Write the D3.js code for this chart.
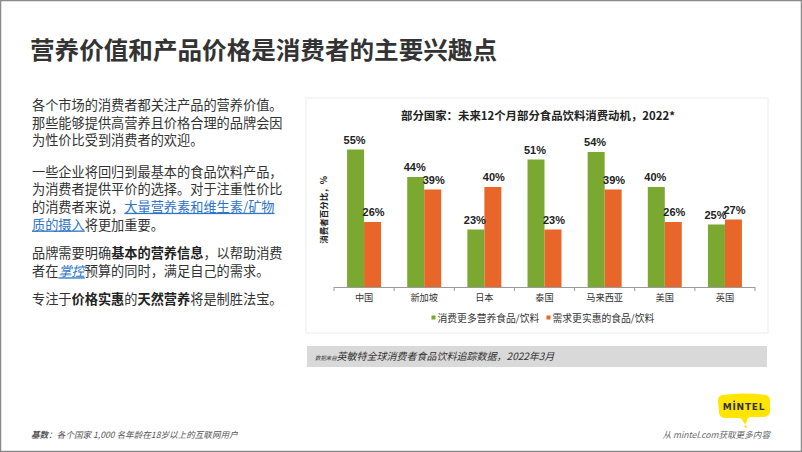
<!DOCTYPE html>
<html><head><meta charset="utf-8">
<script src="https://cdn.jsdelivr.net/npm/d3@7"></script>
<style>
html,body{margin:0;padding:0;background:#fff;}
svg{display:block;}
</style></head>
<body>
<svg id="c" width="802" height="452"></svg>
<script>
const categories = ["中国","新加坡","日本","泰国","马来西亚","美国","英国"];
const seriesNames = ["消费更多营养食品/饮料","需求更实惠的食品/饮料"];
const nutritious = [55,44,23,51,54,40,25];
const affordable = [26,39,40,23,39,26,27];
const colors = ["#7AA830","#E8662A"];

const svg = d3.select("#c");
const CJK = "'Noto Sans CJK SC','Noto Sans',sans-serif";

// slide frame
svg.append("rect").attr("x",0.5).attr("y",0.5).attr("width",801).attr("height",451)
  .attr("fill","#fff").attr("stroke","#8a8a8a").attr("stroke-width",1.5);

// main title
svg.append("text").attr("x",30).attr("y",59)
  .attr("font-family",CJK).attr("font-weight","bold").attr("font-size",24)
  .attr("fill","#333").attr("textLength",467).attr("lengthAdjust","spacingAndGlyphs")
  .text("营养价值和产品价格是消费者的主要兴趣点");

// body paragraphs
const lines = [
  {y:110, parts:[["各个市场的消费者都关注产品的营养价值。",""]]},
  {y:127.6, parts:[["那些能够提供高营养且价格合理的品牌会因",""]]},
  {y:145.2, parts:[["为性价比受到消费者的欢迎。",""]]},
  {y:176.5, parts:[["一些企业将回归到最基本的食品饮料产品，",""]]},
  {y:194.1, parts:[["为消费者提供平价的选择。对于注重性价比",""]]},
  {y:211.8, parts:[["的消费者来说，",""],["大量营养素和维生素/矿物","link"]]},
  {y:229.5, parts:[["质的摄入","link"],["将更加重要。",""]]},
  {y:258, parts:[["品牌需要明确",""],["基本的营养信息","b"],["，以帮助消费",""]]},
  {y:276.3, parts:[["者在",""],["掌控","linki"],["预算的同时，满足自己的需求。",""]]},
  {y:304, parts:[["专注于",""],["价格实惠","b"],["的",""],["天然营养","b"],["将是制胜法宝。",""]]}
];
const body = svg.append("g").attr("font-family",CJK).attr("font-size",13.2).attr("fill","#333");
lines.forEach(l=>{
  const t = body.append("text").attr("x",32).attr("y",l.y);
  l.parts.forEach(p=>{
    const s = t.append("tspan").text(p[0]);
    if(p[1]==="b") s.attr("font-weight","bold").attr("fill","#222");
    if(p[1]==="link"||p[1]==="linki"){ s.attr("fill","#2E75C6").attr("text-decoration","underline"); }
    if(p[1]==="linki") s.attr("font-style","italic");
  });
});

// chart panel
svg.append("rect").attr("x",306).attr("y",98).attr("width",462).attr("height",235)
  .attr("fill","#fff").attr("stroke","#ececec").attr("stroke-width",1);

svg.append("text").attr("x",538).attr("y",120).attr("text-anchor","middle")
  .attr("font-family",CJK).attr("font-weight","bold").attr("font-size",11.4).attr("fill","#222")
  .text("部分国家：未来12个月部分食品饮料消费动机，2022*");

const x0 = d3.scaleBand().domain(categories).range([334,755]).padding(0);
const x1 = d3.scaleBand().domain([0,1]).range([0,x0.bandwidth()]).paddingInner(0).paddingOuter(0.77);
const y = d3.scaleLinear().domain([0,60]).range([287,137]);

const data = categories.map((c,i)=>({c, vals:[nutritious[i],affordable[i]]}));
const g = svg.append("g");
const grp = g.selectAll("g.cat").data(data).join("g").attr("transform",d=>`translate(${x0(d.c)},0)`);
grp.selectAll("rect").data(d=>d.vals.map((v,k)=>({v,k}))).join("rect")
  .attr("x",d=>x1(d.k)).attr("width",x1.bandwidth())
  .attr("y",d=>y(d.v)).attr("height",d=>y(0)-y(d.v))
  .attr("fill",d=>colors[d.k]);
grp.selectAll("text").data(d=>d.vals.map((v,k)=>({v,k}))).join("text")
  .attr("x",d=>x1(d.k)+x1.bandwidth()/2 + (d.k===0?-1:1))
  .attr("y",d=>y(d.v)-6)
  .attr("text-anchor","middle")
  .attr("font-family","'Liberation Sans',Arial,sans-serif").attr("font-size",11)
  .attr("font-weight","bold").attr("fill","#222")
  .text(d=>d.v+"%");

// x axis
const ax = svg.append("g").attr("transform",`translate(0,${y(0)})`)
  .call(d3.axisBottom(x0).tickSize(0).tickPadding(6));
ax.select(".domain").attr("stroke","#9a9a9a").attr("d","M334,0.5H755");
ax.selectAll(".tick text").attr("font-family",CJK).attr("font-size",9.2).attr("fill","#333").attr("dy","0.9em");
const bounds = categories.map(c=>x0(c)).concat([x0.range()[1]]);
ax.selectAll("line.bt").data(bounds).join("line").attr("class","bt")
  .attr("x1",d=>d).attr("x2",d=>d).attr("y1",0).attr("y2",4).attr("stroke","#9a9a9a");

// y axis title
svg.append("text").attr("transform","translate(327,210) rotate(-90)").attr("text-anchor","middle")
  .attr("font-family",CJK).attr("font-weight","bold").attr("font-size",8.5).attr("fill","#222")
  .text("消费者百分比，%");

// legend
const legX = [431.5, 546.5];
const leg = svg.append("g").selectAll("g").data(seriesNames).join("g")
  .attr("transform",(d,i)=>`translate(${legX[i]},318)`);
leg.append("rect").attr("x",0).attr("y",-2.5).attr("width",4).attr("height",4).attr("fill",(d,i)=>colors[i]);
leg.append("text").attr("x",6).attr("y",3.5).attr("font-family",CJK).attr("font-size",9.8).attr("fill","#333").text(d=>d);

// source bar
svg.append("rect").attr("x",307).attr("y",346).attr("width",460).attr("height",21).attr("fill","#d9d9d9");
const src = svg.append("text").attr("x",315).attr("y",360).attr("font-family",CJK).attr("font-style","italic").attr("fill","#333");
src.append("tspan").attr("font-size",5.4).text("数据来自");
src.append("tspan").attr("font-size",10).text("英敏特全球消费者食品饮料追踪数据，2022年3月");

// footer
const ft = svg.append("text").attr("x",31).attr("y",438).attr("font-family",CJK).attr("font-style","italic").attr("font-size",8.6).attr("fill","#555");
ft.append("tspan").attr("font-weight","bold").text("基数");
ft.append("tspan").text("：各个国家 1,000 名年龄在18岁以上的互联网用户");
svg.append("text").attr("x",770).attr("y",438).attr("text-anchor","end").attr("font-family",CJK)
  .attr("font-style","italic").attr("font-size",8.6).attr("fill","#666").text("从 mintel.com获取更多内容");

// mintel logo
const lg = svg.append("g").attr("transform","translate(718,394)");
lg.append("path").attr("fill","#FFE500")
  .attr("d","M4,1 Q26,-2 48,1 Q52,2 52,7 L52,18 Q51,23 45,23 L32,23 Q29,24 29,27 L28,29 Q27,31 26,29 L25,27 Q24,24 20,24 L6,24 Q1,23 1,18 L0,7 Q0,2 4,1 Z");
lg.append("circle").attr("cx",27.5).attr("cy",32.5).attr("r",1.2).attr("fill","#FFE500");
lg.append("text").attr("x",26).attr("y",16).attr("text-anchor","middle")
  .attr("font-family","'DejaVu Sans',sans-serif").attr("font-weight","bold").attr("font-size",9)
  .attr("fill","#333").attr("letter-spacing",0.8).text("MINTEL");
lg.append("circle").attr("cx",16.2).attr("cy",7.3).attr("r",0.9).attr("fill","#333");
</script>
</body></html>
